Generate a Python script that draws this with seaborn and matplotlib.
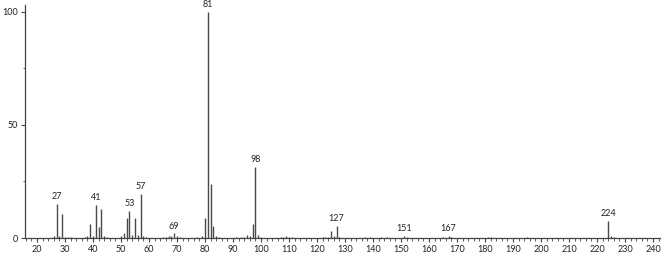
import matplotlib
matplotlib.use("Agg")
import matplotlib.pyplot as plt
import seaborn as sns
import numpy as np
from matplotlib.ticker import MultipleLocator

# m/z values and relative intensities
mz = [26, 27, 28, 29, 30, 31, 32, 37, 38, 39, 40, 41, 42, 43, 44, 45,
      50, 51, 52, 53, 54, 55, 56, 57, 58, 59, 65, 66, 67, 68, 69, 70, 71,
      77, 79, 80, 81, 82, 83, 84, 85, 91, 93, 94, 95, 96, 97, 98, 99, 100,
      107, 108, 109, 110, 111, 122, 123, 124, 125, 126, 127, 128,
      137, 139, 143, 145, 151, 152, 165, 167, 168, 181, 182, 195,
      224, 225, 226]
intensity = [1.0, 15.0, 1.0, 10.5, 0.5, 0.5, 0.5, 0.5, 1.0, 6.0, 1.0, 14.5, 5.0, 13.0, 1.0, 0.5,
             1.0, 2.0, 9.0, 12.0, 1.5, 9.0, 1.5, 19.5, 1.0, 0.5, 0.5, 0.5, 1.0, 1.0, 2.0, 1.0, 0.5,
             0.5, 1.0, 9.0, 100.0, 24.0, 5.5, 1.0, 0.5, 0.5, 0.5, 0.5, 1.5, 1.0, 6.0, 31.5, 1.5, 0.5,
             0.5, 0.5, 1.0, 0.5, 0.5, 0.5, 0.5, 0.5, 3.0, 1.0, 5.5, 0.5,
             0.5, 0.5, 0.5, 0.5, 1.0, 0.5, 0.5, 1.0, 0.5, 0.5, 0.5, 0.5,
             7.5, 1.0, 0.5]
labeled_peaks = [27, 41, 53, 57, 69, 81, 98, 127, 151, 167, 224]

sns.set_theme(style="ticks")
plt.rcParams['font.family'] = ['Lato', 'DejaVu Sans']

fig = plt.figure(figsize=(6.66, 2.54), dpi=100)
ax = fig.add_axes([25/666, 16/254, 635/666, 233/254])

ax.vlines(mz, 0, intensity, color="#4a4a4a", linewidth=1.0)

lookup = dict(zip(mz, intensity))
for p in labeled_peaks:
    ax.text(p, lookup[p] + 1.2, str(p), ha="center", va="bottom",
            fontsize=6.5, color="#222222")

ax.set_xlim(15.7, 242.5)
ax.set_ylim(0, 103)
ax.xaxis.set_major_locator(MultipleLocator(10))
ax.xaxis.set_minor_locator(MultipleLocator(2))
ax.set_xticks(np.arange(20, 241, 10))
ax.set_yticks([0, 50, 100])
ax.yaxis.set_minor_locator(MultipleLocator(25))
ax.tick_params(axis="both", which="major", length=3, width=0.8, color="#444444",
               labelsize=6.5, labelcolor="#222222", pad=2)
ax.tick_params(axis="both", which="minor", length=1.8, width=0.6, color="#444444")
for s in ["top", "right"]:
    ax.spines[s].set_visible(False)
for s in ["left", "bottom"]:
    ax.spines[s].set_color("#444444")
    ax.spines[s].set_linewidth(0.9)
ax.set_facecolor("white")
fig.patch.set_facecolor("white")

fig.savefig("out.png", dpi=100, facecolor="white")
